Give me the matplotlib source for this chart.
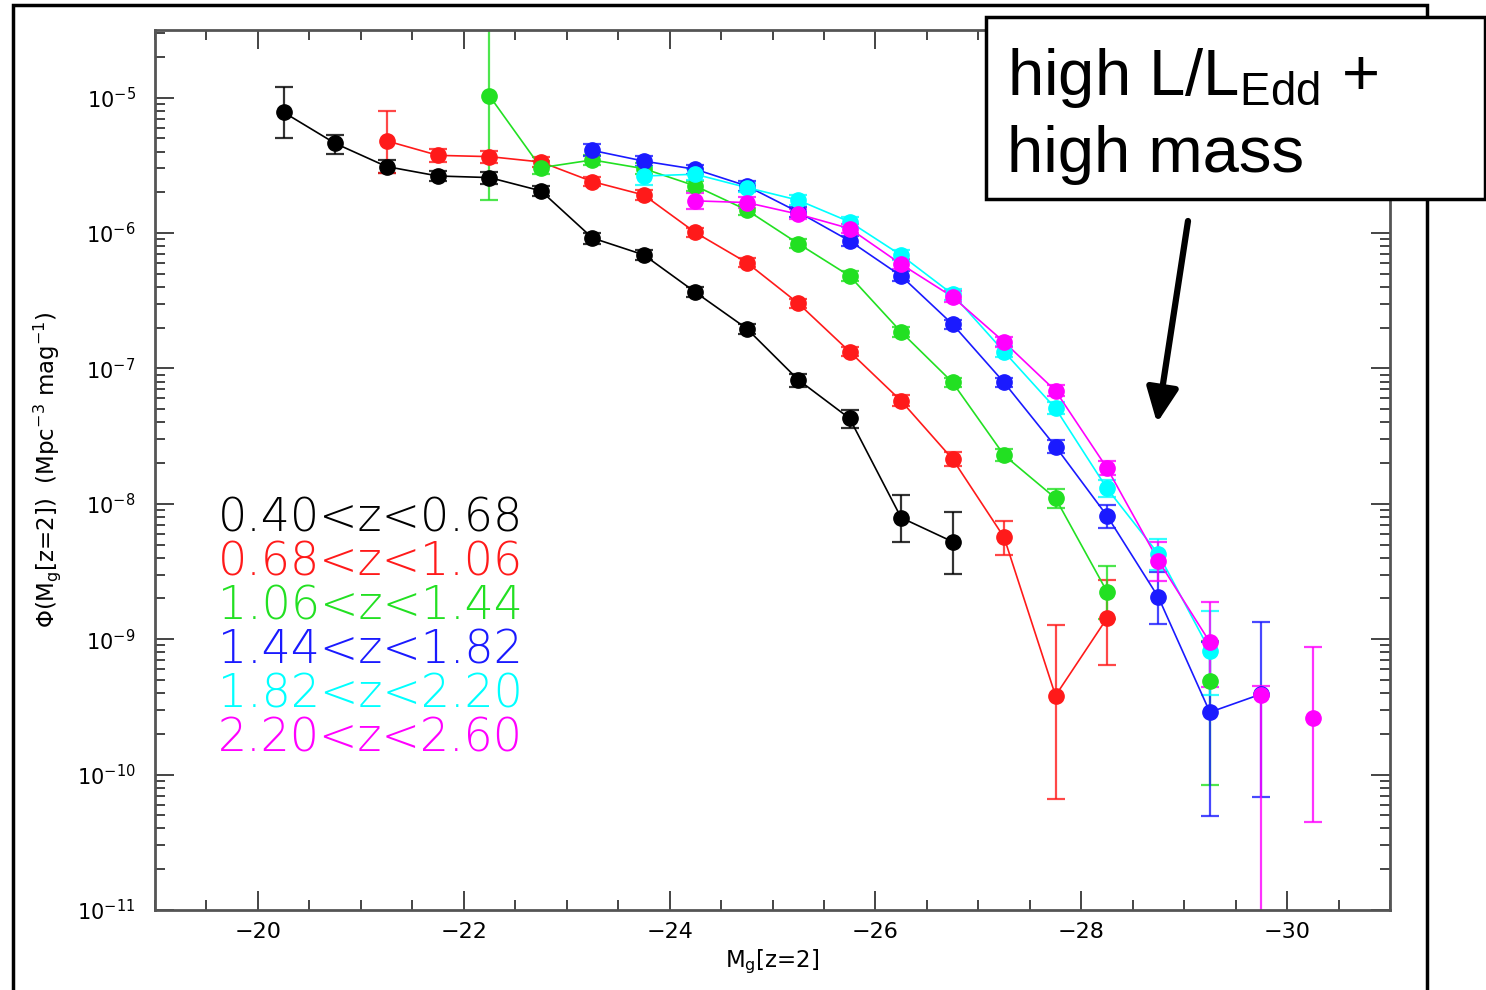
import numpy as np
import matplotlib
matplotlib.use('Agg')
import matplotlib.pyplot as plt
from matplotlib.patches import Rectangle
from matplotlib.ticker import MultipleLocator, LogLocator, NullFormatter, FixedLocator

plt.rcParams['font.family'] = ['DejaVu Sans']
plt.rcParams['mathtext.fontset'] = 'dejavusans'

# --- data (bin centres in M_g[z=2], phi in Mpc^-3 mag^-1) ---
# error bars given as (upper, lower) in dex
labels = ['0.40<z<0.68', '0.68<z<1.06', '1.06<z<1.44',
          '1.44<z<1.82', '1.82<z<2.20', '2.20<z<2.60']
colors = ['#000000', '#ff1a1a', '#22e022', '#1a1aff', '#00ffff', '#ff00ff']

mag_0 = [-20.25, -20.75, -21.25, -21.75, -22.25, -22.75, -23.25, -23.75,
         -24.25, -24.75, -25.25, -25.75, -26.25, -26.75]
phi_0 = [7.8e-6, 4.6e-6, 3.1e-6, 2.64e-6, 2.57e-6, 2.05e-6, 9.2e-7, 6.9e-7,
         3.66e-7, 1.97e-7, 8.25e-8, 4.27e-8, 7.9e-9, 5.25e-9]
up_0 = [0.19, 0.065, 0.045, 0.04, 0.04, 0.035, 0.04, 0.035, 0.035, 0.035, 0.045, 0.06, 0.17, 0.22]
dn_0 = [0.19, 0.08, 0.05, 0.04, 0.045, 0.035, 0.045, 0.035, 0.035, 0.04, 0.05, 0.07, 0.18, 0.24]

mag_1 = [-21.25, -21.75, -22.25, -22.75, -23.25, -23.75, -24.25, -24.75,
         -25.25, -25.75, -26.25, -26.75, -27.25, -27.75, -28.25]
phi_1 = [4.8e-6, 3.75e-6, 3.67e-6, 3.35e-6, 2.4e-6, 1.91e-6, 1.01e-6, 6.05e-7,
         3.03e-7, 1.33e-7, 5.76e-8, 2.14e-8, 5.66e-9, 3.83e-10, 1.43e-9]
up_1 = [0.22, 0.05, 0.045, 0.04, 0.035, 0.035, 0.035, 0.035, 0.035, 0.035, 0.04, 0.05, 0.12, 0.52, 0.285]
dn_1 = [0.24, 0.05, 0.045, 0.04, 0.035, 0.035, 0.035, 0.035, 0.035, 0.035, 0.04, 0.05, 0.13, 0.76, 0.345]

mag_2 = [-22.25, -22.75, -23.25, -23.75, -24.25, -24.75, -25.25, -25.75,
         -26.25, -26.75, -27.25, -27.75, -28.25, -28.75, -29.25]
phi_2 = [1.03e-5, 3.04e-6, 3.47e-6, 2.99e-6, 2.23e-6, 1.48e-6, 8.36e-7, 4.82e-7,
         1.86e-7, 7.88e-8, 2.29e-8, 1.1e-8, 2.25e-9, np.nan, 4.9e-10]
up_2 = [0.8, 0.05, 0.04, 0.04, 0.035, 0.035, 0.035, 0.035, 0.035, 0.035, 0.045, 0.07, 0.19, np.nan, 0.3]
dn_2 = [0.77, 0.05, 0.04, 0.04, 0.035, 0.035, 0.035, 0.035, 0.035, 0.035, 0.045, 0.07, 0.2, np.nan, 0.77]

mag_3 = [-23.25, -23.75, -24.25, -24.75, -25.25, -25.75, -26.25, -26.75,
         -27.25, -27.75, -28.25, -28.75, -29.25, -29.75]
phi_3 = [4.08e-6, 3.4e-6, 2.96e-6, 2.23e-6, 1.43e-6, 8.75e-7, 4.82e-7, 2.12e-7,
         7.88e-8, 2.65e-8, 8.17e-9, 2.04e-9, 2.89e-10, 3.94e-10]
up_3 = [0.045, 0.035, 0.035, 0.035, 0.035, 0.035, 0.035, 0.035, 0.035, 0.045, 0.08, 0.19, 0.52, 0.53]
dn_3 = [0.045, 0.035, 0.035, 0.035, 0.035, 0.035, 0.035, 0.035, 0.035, 0.045, 0.09, 0.2, 0.77, 0.76]

mag_4 = [-23.75, -24.25, -24.75, -25.25, -25.75, -26.25, -26.75, -27.25,
         -27.75, -28.25, -28.75, -29.25]
phi_4 = [2.64e-6, 2.72e-6, 2.17e-6, 1.75e-6, 1.21e-6, 6.86e-7, 3.53e-7, 1.33e-7,
         5.07e-8, 1.3e-8, 4.26e-9, 8.24e-10]
up_4 = [0.07, 0.04, 0.035, 0.035, 0.035, 0.035, 0.04, 0.04, 0.045, 0.06, 0.11, 0.29]
dn_4 = [0.07, 0.04, 0.035, 0.035, 0.035, 0.035, 0.04, 0.04, 0.045, 0.06, 0.12, 0.33]

mag_5 = [-24.25, -24.75, -25.25, -25.75, -26.25, -26.75, -27.25, -27.75,
         -28.25, -28.75, -29.25, -29.75, -30.25]
phi_5 = [1.73e-6, 1.68e-6, 1.38e-6, 1.08e-6, 5.89e-7, 3.38e-7, 1.57e-7, 6.84e-8,
         1.84e-8, 3.8e-9, 9.5e-10, 3.9e-10, 2.63e-10]
up_5 = [0.06, 0.04, 0.035, 0.035, 0.035, 0.04, 0.04, 0.04, 0.05, 0.14, 0.3, 0.06, 0.52]
dn_5 = [0.06, 0.04, 0.035, 0.035, 0.035, 0.04, 0.04, 0.04, 0.05, 0.15, 0.33, 3.0, 0.77]

# how many leading points of each bin are joined by a line
joined = [14, 15, 13, 14, 12, 11]

y_decades = [1e-11, 1e-10, 1e-9, 1e-8, 1e-7, 1e-6, 1e-5]

series = [(mag_0, phi_0, up_0, dn_0), (mag_1, phi_1, up_1, dn_1),
          (mag_2, phi_2, up_2, dn_2), (mag_3, phi_3, up_3, dn_3),
          (mag_4, phi_4, up_4, dn_4), (mag_5, phi_5, up_5, dn_5)]

fig = plt.figure(figsize=(14.86, 9.9), dpi=100)
ax = fig.add_axes([155 / 1486, 80 / 990, 1235 / 1486, 880 / 990])

for (mag, phi, up, dn), col, n in zip(series, colors, joined):
    mag = np.array(mag)
    phi = np.array(phi)
    lo = phi - phi * 10 ** (-np.array(dn))
    hi = phi * 10 ** np.array(up) - phi
    ax.errorbar(mag, phi, yerr=[lo, hi], fmt='none', ecolor=col, elinewidth=1.6,
                capsize=6.5, capthick=1.6, alpha=0.8, zorder=2)
    ax.plot(mag[:n], phi[:n], '-', color=col, lw=1.2, zorder=3)
    ax.plot(mag, phi, 'o', color=col, ms=11, mec=col, zorder=4)

ax.set_yscale('log')
ax.set_xlim(-19, -31)
ax.set_ylim(1e-11, 10 ** -4.5)

ax.xaxis.set_major_locator(MultipleLocator(2))
ax.xaxis.set_minor_locator(MultipleLocator(0.5))
ax.yaxis.set_major_locator(FixedLocator(y_decades))
ax.yaxis.set_minor_locator(LogLocator(base=10, subs=np.arange(2, 10), numticks=20))
ax.yaxis.set_minor_formatter(NullFormatter())
ax.tick_params(which='both', direction='in', top=True, right=True,
               color='#444444', width=1.4)
ax.tick_params(which='major', length=14)
ax.tick_params(which='minor', length=7)
ax.tick_params(axis='x', which='major', labelsize=16, pad=9)
ax.tick_params(axis='y', which='major', labelsize=15, pad=14)
for sp in ax.spines.values():
    sp.set_color('#555555')
    sp.set_linewidth(2)

ax.set_xlabel(r'M$_{\rm g}$[z=2]', fontsize=16.5, labelpad=4)
ax.set_ylabel(r'$\Phi$(M$_{\rm g}$[z=2])  (Mpc$^{-3}$ mag$^{-1}$)', fontsize=16.5, labelpad=10)

# coloured redshift labels
for i, (lab, col) in enumerate(zip(labels, colors)):
    ax.text(0.051, 0.43 - i * 0.05, lab, transform=ax.transAxes, color=col,
            fontsize=33, fontweight='light', va='baseline', ha='left')

# outer frame
fig.add_artist(Rectangle((13 / 1486, -0.02), 1414 / 1486, 1.02 - 5 / 990,
                         transform=fig.transFigure, fill=False, lw=2.5,
                         edgecolor='black', zorder=5))

# annotation box
fig.add_artist(Rectangle((986 / 1486, 1 - 199 / 990), 499 / 1486, 182 / 990,
                         transform=fig.transFigure, facecolor='white',
                         edgecolor='black', lw=2.5, zorder=6))
fig.text(1007 / 1486, 1 - 95 / 990, r'high L/L$_{\mathregular{Edd}}$ +',
         family='Liberation Sans', fontsize=47, va='baseline', zorder=7)
fig.text(1007 / 1486, 1 - 172 / 990, 'high mass',
         family='Liberation Sans', fontsize=47, va='baseline', zorder=7)

ax.annotate('', xy=(1157 / 1486, 1 - 423 / 990), xytext=(1188 / 1486, 1 - 221 / 990),
            xycoords='figure fraction', textcoords='figure fraction',
            arrowprops=dict(arrowstyle='-|>,head_length=1.3,head_width=0.6',
                            lw=4.5, color='black', mutation_scale=16,
                            shrinkA=0, shrinkB=0),
            annotation_clip=False)

fig.savefig('out.png', dpi=100)
